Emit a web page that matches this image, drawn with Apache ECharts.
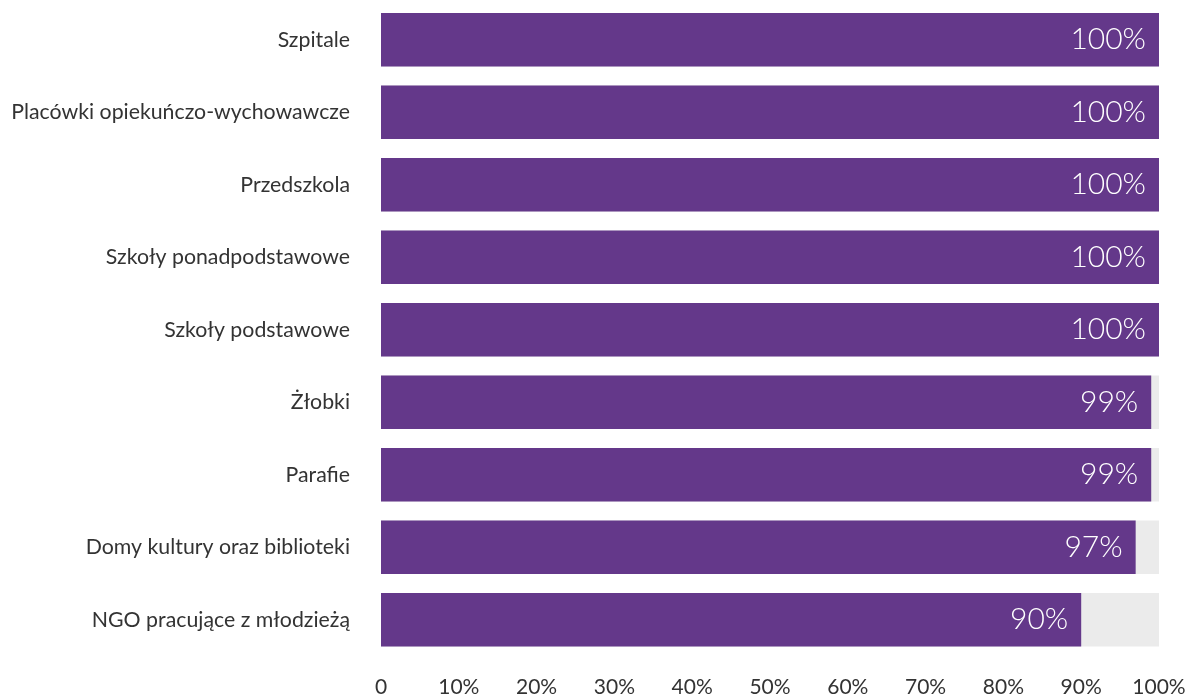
<!DOCTYPE html>
<html>
<head>
<meta charset="utf-8">
<script src="https://cdn.jsdelivr.net/npm/echarts@6/dist/echarts.min.js"></script>
<style>
html, body { margin: 0; padding: 0; background: #fff; }
#chart { width: 1188px; height: 695px; }
</style>
</head>
<body>
<div id="chart"></div>
<script>
var categories = ['Szpitale', 'Placówki opiekuńczo-wychowawcze', 'Przedszkola', 'Szkoły ponadpodstawowe',
	'Szkoły podstawowe', 'Żłobki', 'Parafie', 'Domy kultury oraz biblioteki', 'NGO pracujące z młodzieżą'];
var values = [100, 100, 100, 100, 100, 99, 99, 97, 90];
var tickLabels = ['0', '10%', '20%', '30%', '40%', '50%', '60%', '70%', '80%', '90%', '100%'];

var myChart = echarts.init(document.getElementById('chart'));
var option = {
	animation: false,
	grid: { left: 381, right: 29, top: 3.5, bottom: 39, containLabel: false, outerBoundsMode: 'none' },
	xAxis: {
		type: 'value',
		min: 0,
		max: 100,
		interval: 10,
		axisLine: { show: false },
		axisTick: { show: false },
		splitLine: { show: false },
		axisLabel: {
			margin: 21,
			color: '#333',
			fontFamily: 'Lato',
			fontSize: 21,
			formatter: function (v) { return tickLabels[Math.round(v / 10)]; }
		}
	},
	yAxis: {
		type: 'category',
		inverse: true,
		data: categories,
		axisLine: { show: false },
		axisTick: { show: false },
		axisLabel: {
			margin: 31,
			color: '#333',
			fontFamily: 'Lato',
			fontSize: 21.3
		}
	},
	series: [{
		type: 'bar',
		data: values,
		barCategoryGap: '26.5%',
		itemStyle: { color: '#64388a' },
		showBackground: true,
		backgroundStyle: { color: '#ebebeb' },
		label: {
			show: true,
			position: 'insideRight',
			distance: 13,
			color: '#fff',
			fontFamily: 'Lato',
			fontWeight: 300,
			fontSize: 30,
			formatter: '{c}%'
		}
	}]
};
myChart.setOption(option);
</script>
</body>
</html>
